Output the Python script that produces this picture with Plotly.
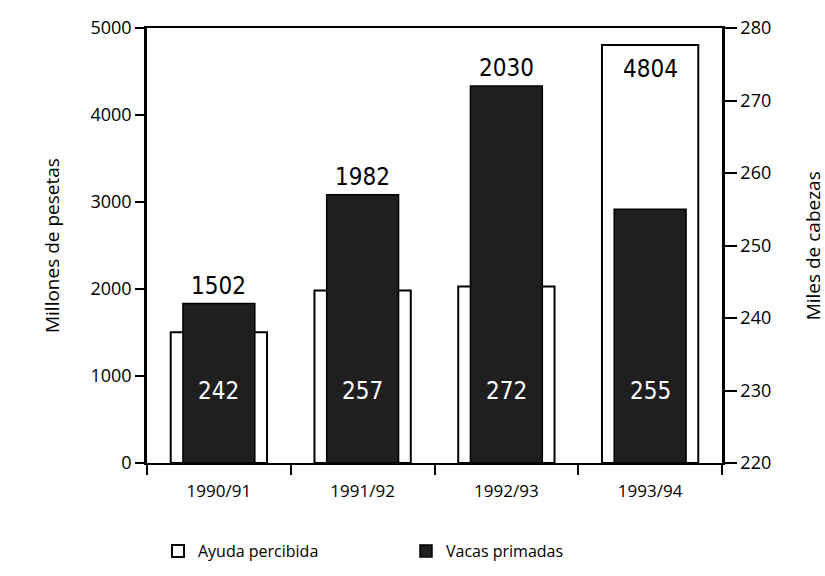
import plotly.graph_objects as go

campanas = ["1990/91", "1991/92", "1992/93", "1993/94"]
ayuda = [1502, 1982, 2030, 4804]          # Millones de pesetas (left axis)
vacas = [242, 257, 272, 255]              # Miles de cabezas (right axis)

Y_MAX = 5000
Y2_MIN, Y2_MAX = 220, 280

YTICK_FONT = dict(family="Open Sans, DejaVu Sans, sans-serif", size=18, color="black")
XTICK_FONT = dict(family="Open Sans, DejaVu Sans, sans-serif", size=17, color="black")
BIG_FONT = "DejaVu Sans Condensed, Liberation Sans Narrow, Open Sans, sans-serif"

fig = go.Figure()

fig.add_trace(go.Bar(
    name="Ayuda percibida",
    x=campanas, y=ayuda,
    width=0.67, offset=-0.335,
    marker=dict(color="white", line=dict(color="black", width=2)),
    yaxis="y",
))

fig.add_trace(go.Bar(
    name="Vacas primadas",
    x=campanas, y=[v - Y2_MIN for v in vacas], base=Y2_MIN,
    width=0.5, offset=-0.25,
    marker=dict(color="#1f1f1f", line=dict(color="black", width=1.5)),
    yaxis="y2",
))

annotations = []
for c, a, v in zip(campanas, ayuda, vacas):
    dark_equiv = (v - Y2_MIN) / (Y2_MAX - Y2_MIN) * Y_MAX
    if a > dark_equiv:
        annotations.append(dict(x=c, y=a, xref="x", yref="y", text=str(a),
                                showarrow=False, yanchor="top", yshift=-8,
                                font=dict(family=BIG_FONT, size=24, color="black")))
    else:
        annotations.append(dict(x=c, y=v, xref="x", yref="y2", text=str(a),
                                showarrow=False, yanchor="bottom", yshift=2,
                                font=dict(family=BIG_FONT, size=24, color="black")))
    annotations.append(dict(x=c, y=230, xref="x", yref="y2", text=str(v),
                            showarrow=False, yanchor="middle",
                            font=dict(family=BIG_FONT, size=24, color="white")))

annotations.append(dict(x=-0.166, y=0.5, xref="paper", yref="paper",
                        text="Millones de pesetas", textangle=-90, showarrow=False,
                        xanchor="center", yanchor="middle",
                        font=dict(family="Open Sans, sans-serif", size=19, color="black")))
annotations.append(dict(x=1.158, y=0.5, xref="paper", yref="paper",
                        text="Miles de cabezas", textangle=-90, showarrow=False,
                        xanchor="center", yanchor="middle",
                        font=dict(family="Open Sans, sans-serif", size=19, color="black")))

fig.update_layout(
    width=825, height=576,
    margin=dict(l=147, r=103, t=28, b=113, autoexpand=False),
    paper_bgcolor="white", plot_bgcolor="white",
    barmode="overlay",
    showlegend=True,
    legend=dict(orientation="h", xref="container", yref="container",
                x=0.1915, y=0.0434, xanchor="left", yanchor="middle",
                entrywidth=203, entrywidthmode="pixels",
                font=dict(family="Open Sans, sans-serif", size=16, color="black"),
                traceorder="normal"),
    xaxis=dict(showline=True, linecolor="black", linewidth=2, mirror=True,
               ticks="outside", tickson="boundaries", ticklen=10, tickwidth=1.5,
               tickcolor="black", tickfont=XTICK_FONT, showgrid=False,
               ticklabelstandoff=12, automargin=False),
    yaxis=dict(range=[0, Y_MAX], dtick=1000, showline=True, linecolor="black",
               linewidth=2.5, ticks="outside", ticklen=9, tickwidth=1.5,
               tickcolor="black", tickfont=YTICK_FONT, showgrid=False, zeroline=False,
               automargin=False),
    yaxis2=dict(range=[Y2_MIN, Y2_MAX], dtick=10, overlaying="y", side="right",
                showline=True, linecolor="black", linewidth=2.5, ticks="outside",
                ticklen=12, tickwidth=1.5, tickcolor="black", tickfont=YTICK_FONT,
                showgrid=False, zeroline=False, automargin=False),
    annotations=annotations,
)

fig.write_html("out.html", config={"displayModeBar": False},
               post_script="document.body.style.margin='0';")
